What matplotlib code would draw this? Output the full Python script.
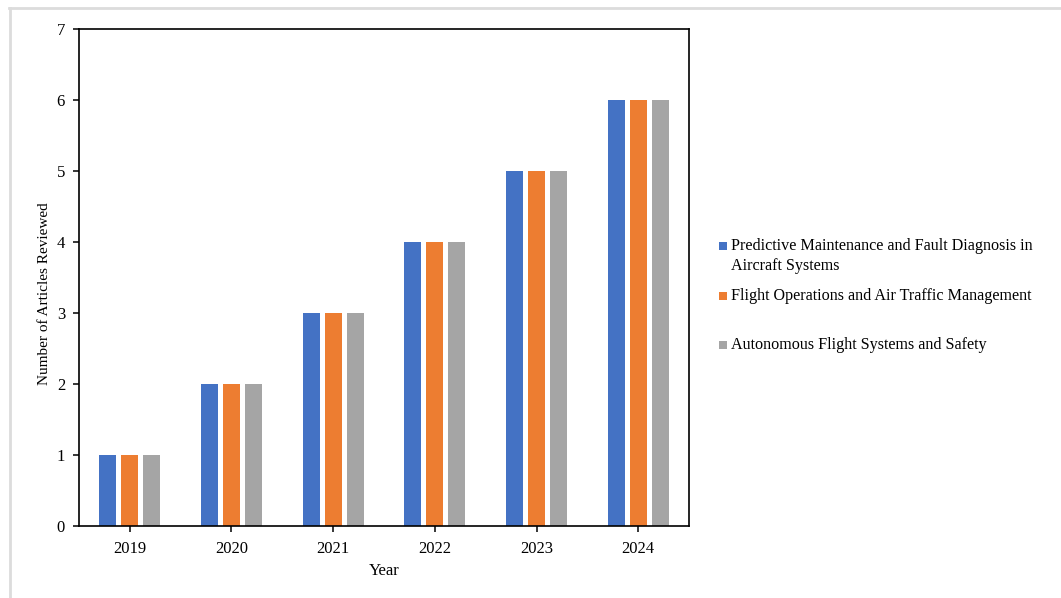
import matplotlib
matplotlib.use("Agg")
import matplotlib.pyplot as plt
from matplotlib.patches import Rectangle
from matplotlib.lines import Line2D
import numpy as np

years = ["2019", "2020", "2021", "2022", "2023", "2024"]
predictive = [1, 2, 3, 4, 5, 6]
flight_ops = [1, 2, 3, 4, 5, 6]
autonomous = [1, 2, 3, 4, 5, 6]
series_labels = [
    "Predictive Maintenance and Fault Diagnosis in\nAircraft Systems",
    "Flight Operations and Air Traffic Management",
    "Autonomous Flight Systems and Safety",
]
colors = ["#4472C4", "#ED7D31", "#A5A5A5"]

plt.rcParams['font.family'] = ['Liberation Serif', 'DejaVu Serif']

W, H = 1061, 598
fig = plt.figure(figsize=(W / 100, H / 100), dpi=100)
ax = fig.add_axes([79 / W, 1 - 526 / H, (689 - 79) / W, (526 - 29) / H])

x = np.arange(len(years))
width = 0.168
offset = 0.216
all_series = [predictive, flight_ops, autonomous]
for i, (vals, c) in enumerate(zip(all_series, colors)):
    ax.bar(x + (i - 1) * offset, vals, width=width, color=c, edgecolor='none')

ax.set_xlim(-0.5, len(years) - 0.5)
ax.set_ylim(0, 7)
ax.set_yticks(range(0, 8))
ax.set_xticks(x)
ax.set_xticklabels(years)
ax.tick_params(axis='both', labelsize=12, direction='out', length=4, width=1.1, colors='black')
ax.tick_params(axis='y', pad=6)
ax.tick_params(axis='x', pad=7)
for s in ax.spines.values():
    s.set_linewidth(1.2)
    s.set_color('black')

ax.set_xlabel("Year", fontsize=12)
ax.xaxis.set_label_coords(0.5, -(571 - 526) / (526 - 29))
ax.set_ylabel("Number of Articles Reviewed", fontsize=11)
ax.yaxis.set_label_coords(-(79 - 45) / (689 - 79), (526 - 294) / (526 - 29))
ax.yaxis.label.set_va('center')
ax.xaxis.label.set_va('center')

# legend drawn manually to match spacing
entries = [(246, [246, 266]), (296, [296]), (345, [345])]
for lab, c, (ysq, ylines) in zip(series_labels, colors, entries):
    fig.patches.append(Rectangle((719.5 / W, 1 - (ysq + 4) / H), 8 / W, 8 / H,
                                 transform=fig.transFigure, facecolor=c,
                                 edgecolor='none'))
    for line, yy in zip(lab.split('\n'), ylines):
        fig.text(731 / W, 1 - yy / H, line, fontsize=11.6, va='center', ha='left')

# light gray page border (top and left)
fig.add_artist(Line2D([9 / W, 1.0], [1 - 7.5 / H, 1 - 7.5 / H], color='#dcdcdc', lw=2,
                      transform=fig.transFigure))
fig.add_artist(Line2D([9.5 / W, 9.5 / W], [0.0, 1 - 7.5 / H], color='#dcdcdc', lw=2,
                      transform=fig.transFigure))

fig.savefig("out.png", dpi=100)
